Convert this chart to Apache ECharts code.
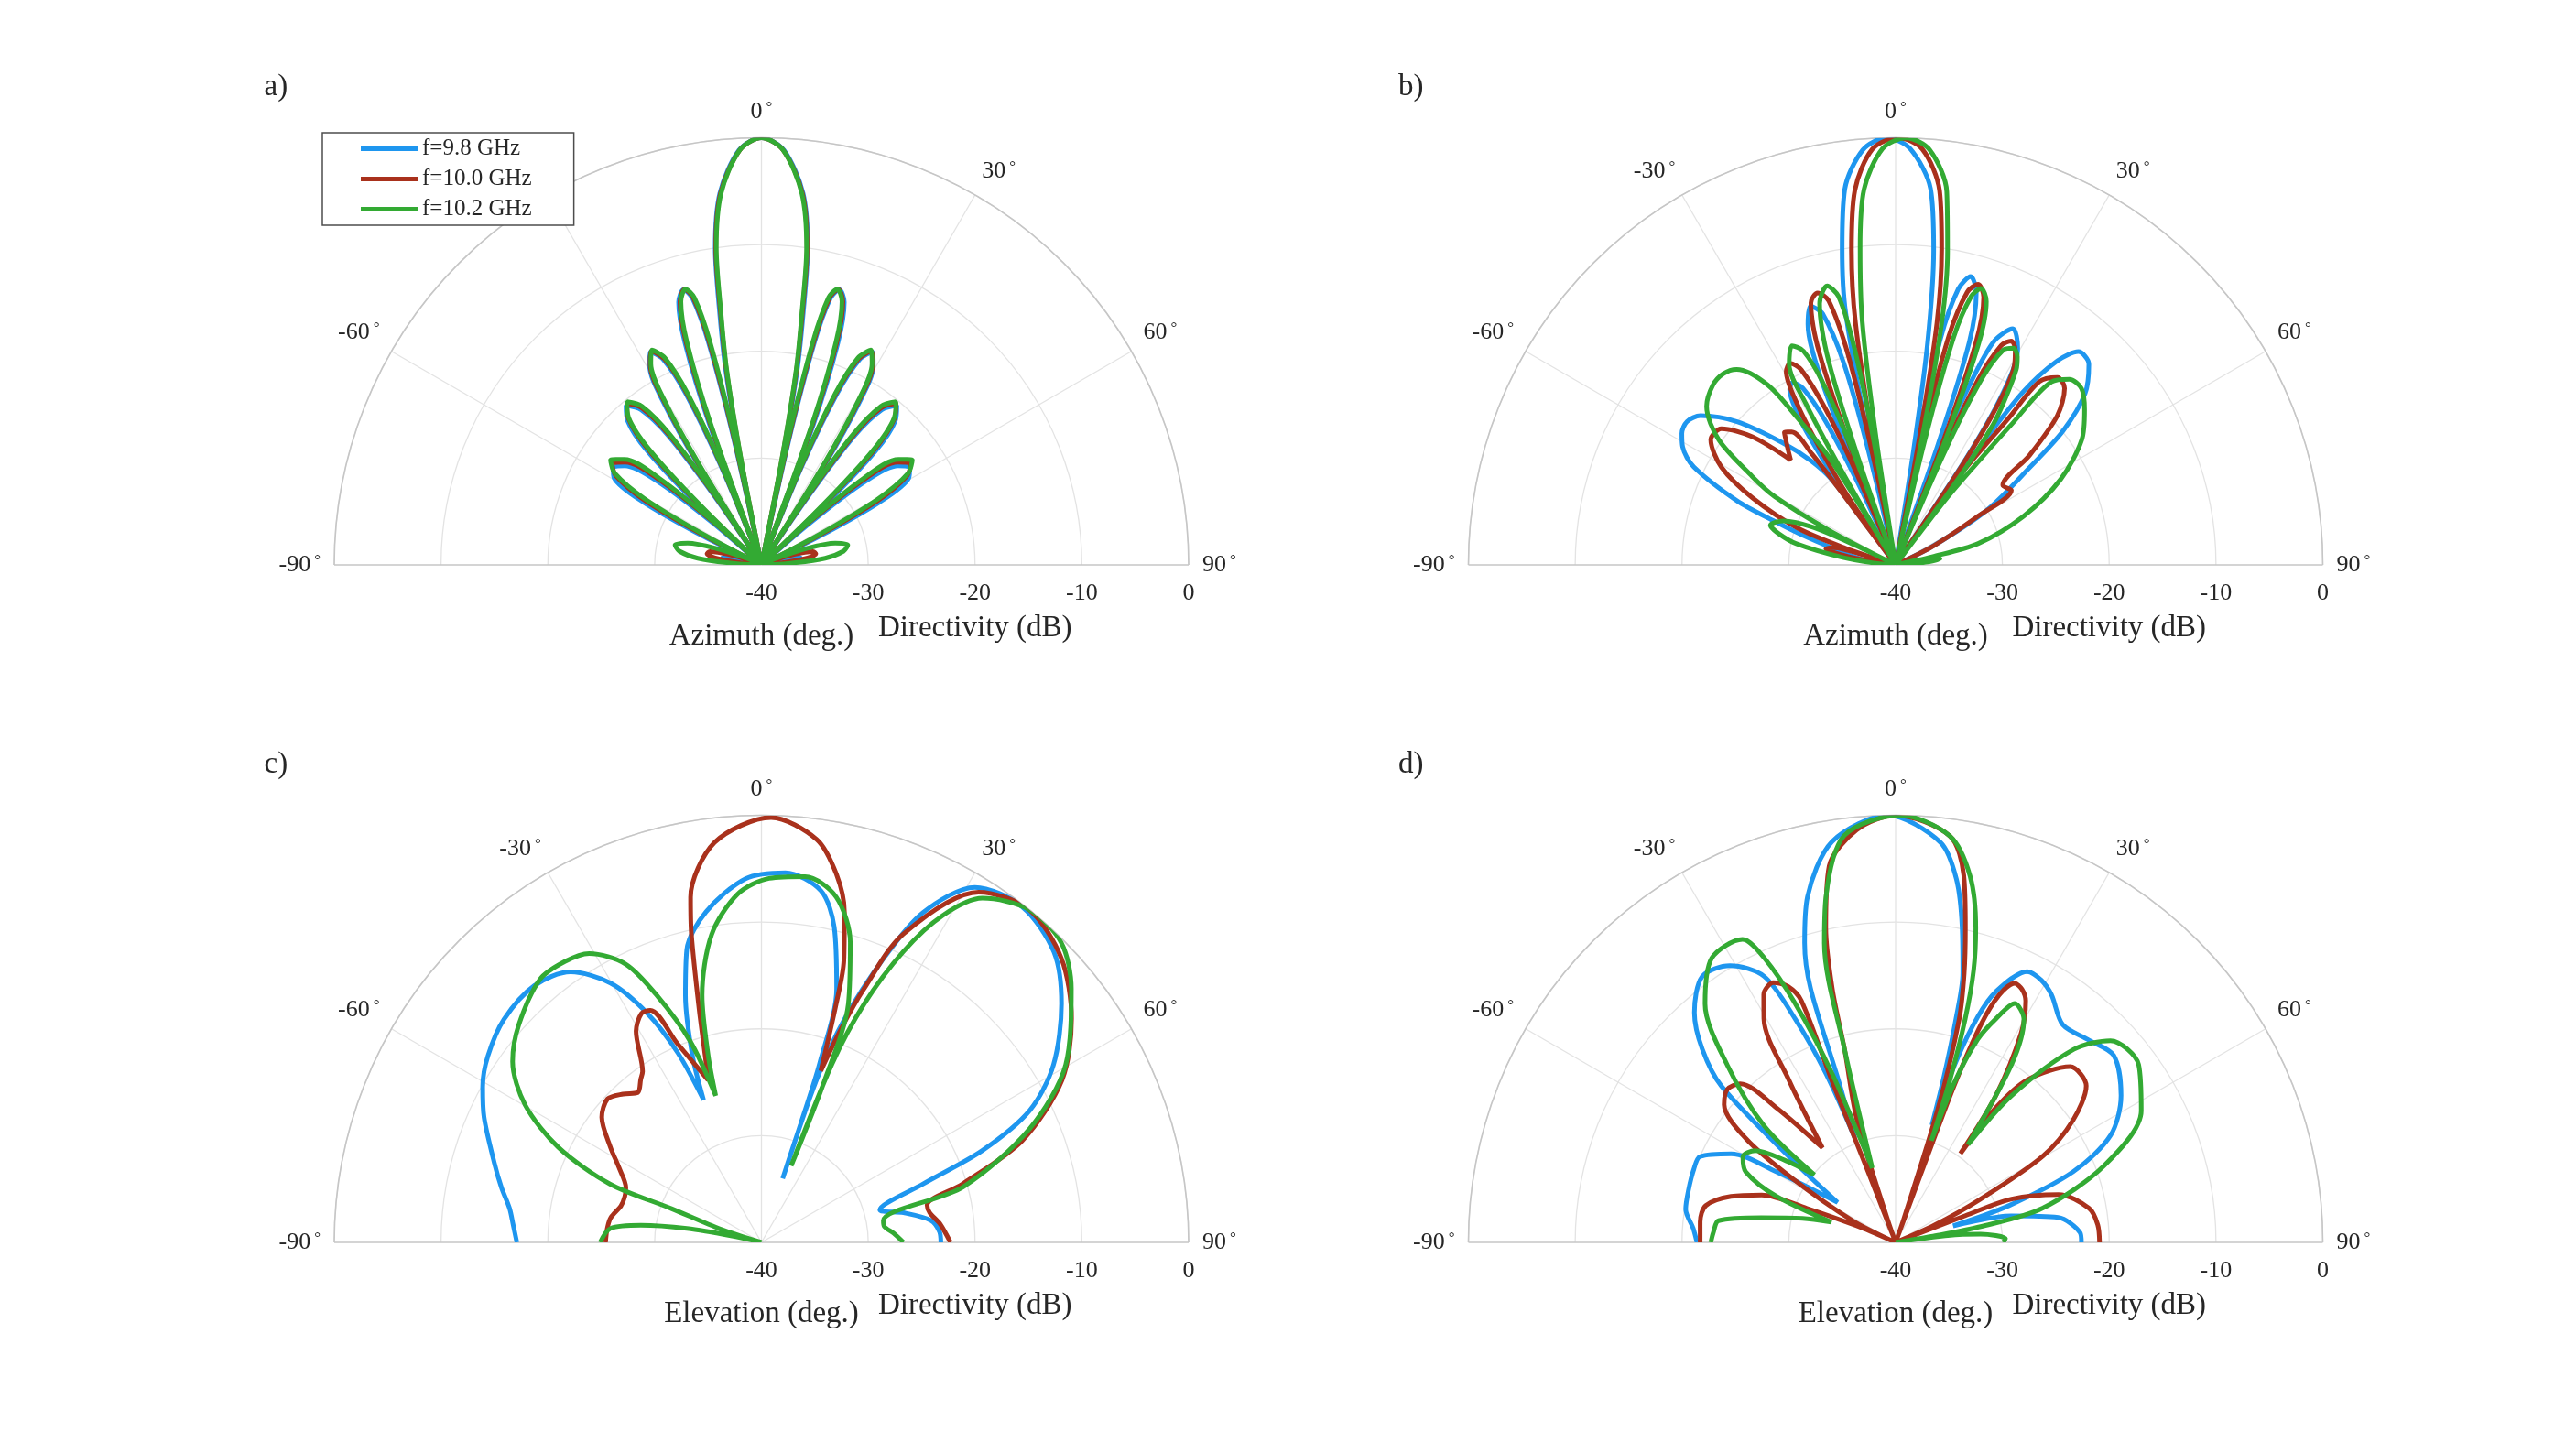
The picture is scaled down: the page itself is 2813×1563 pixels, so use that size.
<!doctype html>
<html>
<head>
<meta charset="utf-8">
<title>Directivity patterns</title>
<script src="https://cdn.jsdelivr.net/npm/echarts@6/dist/echarts.min.js"></script>
<style>
  html, body { margin: 0; padding: 0; background: #fff; }
  #main { width: 2813px; height: 1563px; }
</style>
</head>
<body>
<div id="main"></div>
<script>
// every point is [angle (deg), directivity (dB)]

// a) azimuth cut, broadside beam
var aBlue = [[-90,-40],[-86.5,-39],[-83,-37.3],[-79.5,-36.3],[-76.5,-36.6],[-73,-38.2],[-69,-39.6],[-65,-40],
  [-63.8,-34],[-62,-27.5],[-59.5,-24],[-56.8,-23.4],[-54,-24.2],[-51.2,-27.5],[-49.2,-34],[-47.8,-40],
  [-46.7,-32],[-45.1,-25],[-42.9,-21.6],[-40.3,-20.4],[-37.8,-21.6],[-35.8,-25],[-34.4,-32],[-33.4,-40],
  [-32.3,-29],[-31,-22],[-29.3,-18.6],[-27.5,-17.5],[-25.5,-18.7],[-23.8,-22.5],[-22.3,-30],[-21.3,-40],
  [-20.3,-26],[-19,-18],[-17.5,-14.2],[-15.8,-13.2],[-14.5,-14.2],[-13.4,-18.5],[-12.4,-28],[-11.8,-40],
  [-11.2,-30],[-10.4,-21.5],[-9.4,-16],[-8.3,-10],[-6.4,-5],[-3.1,-1.1],[0,0],
  [3.1,-1.1],[6.4,-5],[8.3,-10],[9.4,-16],[10.4,-21.5],[11.2,-30],
  [11.8,-40],[12.4,-28],[13.4,-18.5],[14.5,-14.2],[15.8,-13.2],[17.5,-14.2],[19,-18],[20.3,-26],
  [21.3,-40],[22.3,-30],[23.8,-22.5],[25.5,-18.7],[27.5,-17.5],[29.3,-18.6],[31,-22],[32.3,-29],
  [33.4,-40],[34.4,-32],[35.8,-25],[37.8,-21.6],[40.3,-20.4],[42.9,-21.6],[45.1,-25],[46.7,-32],
  [47.8,-40],[49.2,-34],[51.2,-27.5],[54,-24.2],[56.8,-23.4],[59.5,-24],[62,-27.5],[63.8,-34],
  [65,-40],[69,-39.6],[73,-38.2],[76.5,-36.6],[79.5,-36.3],[83,-37.3],[86.5,-39],[90,-40]];
var aRed = [[-90,-40],[-86,-38.8],[-82,-36],[-78.5,-34.8],[-75.5,-35],[-72,-36.8],[-68,-39],[-64,-40],
  [-62.8,-34],[-61,-27.5],[-58.5,-24],[-55.8,-23.1],[-53,-24],[-50.2,-27.5],[-48.3,-34],[-47,-40],
  [-46,-32],[-44.5,-25],[-42.3,-21.5],[-39.8,-20.3],[-37.3,-21.5],[-35.4,-25],[-34,-32],[-33,-40],
  [-32,-29],[-30.7,-22],[-29,-18.5],[-27.2,-17.5],[-25.2,-18.7],[-23.5,-22.5],[-22,-30],[-21,-40],
  [-20,-26],[-18.7,-18],[-17.2,-14.2],[-15.6,-13.2],[-14.3,-14.2],[-13.2,-18.5],[-12.2,-28],[-11.6,-40],
  [-11,-30],[-10.2,-21.5],[-9.2,-16],[-8.2,-10],[-6.3,-5],[-3,-1.1],[0,0],
  [3,-1.1],[6.3,-5],[8.2,-10],[9.2,-16],[10.2,-21.5],[11,-30],
  [11.6,-40],[12.2,-28],[13.2,-18.5],[14.3,-14.2],[15.6,-13.2],[17.2,-14.2],[18.7,-18],[20,-26],
  [21,-40],[22,-30],[23.5,-22.5],[25.2,-18.7],[27.2,-17.5],[29,-18.5],[30.7,-22],[32,-29],
  [33,-40],[34,-32],[35.4,-25],[37.3,-21.5],[39.8,-20.3],[42.3,-21.5],[44.5,-25],[46,-32],
  [47,-40],[48.3,-34],[50.2,-27.5],[53,-24],[55.8,-23.1],[58.5,-24],[61,-27.5],[62.8,-34],
  [64,-40],[68,-39],[72,-36.8],[75.5,-35],[78.5,-34.8],[82,-36],[86,-38.8],[90,-40]];
var aGreen = [[-90,-40],[-87,-37.5],[-84,-34],[-80.5,-32.2],[-77,-31.7],[-73.5,-32.8],[-70,-35.5],[-66.5,-38.5],[-63.5,-40],
  [-62.3,-34],[-60.5,-27.5],[-58,-23.8],[-55.2,-22.8],[-52.4,-23.8],[-49.7,-27.5],[-47.9,-34],[-46.7,-40],
  [-45.7,-32],[-44.2,-25],[-42,-21.4],[-39.5,-20.2],[-37,-21.4],[-35.1,-25],[-33.7,-32],[-32.7,-40],
  [-31.8,-29],[-30.5,-22],[-28.8,-18.5],[-27,-17.4],[-25,-18.6],[-23.3,-22.5],[-21.8,-30],[-20.8,-40],
  [-19.8,-26],[-18.5,-18],[-17,-14.2],[-15.4,-13.2],[-14.1,-14.2],[-13,-18.5],[-12,-28],[-11.4,-40],
  [-10.9,-30],[-10.1,-21.5],[-9.1,-16],[-8.1,-10],[-6.2,-5],[-3,-1.1],[0,0],
  [3,-1.1],[6.2,-5],[8.1,-10],[9.1,-16],[10.1,-21.5],[10.9,-30],
  [11.4,-40],[12,-28],[13,-18.5],[14.1,-14.2],[15.4,-13.2],[17,-14.2],[18.5,-18],[19.8,-26],
  [20.8,-40],[21.8,-30],[23.3,-22.5],[25,-18.6],[27,-17.4],[28.8,-18.5],[30.5,-22],[31.8,-29],
  [32.7,-40],[33.7,-32],[35.1,-25],[37,-21.4],[39.5,-20.2],[42,-21.4],[44.2,-25],[45.7,-32],
  [46.7,-40],[47.9,-34],[49.7,-27.5],[52.4,-23.8],[55.2,-22.8],[58,-23.8],[60.5,-27.5],[62.3,-34],
  [63.5,-40],[66.5,-38.5],[70,-35.5],[73.5,-32.8],[77,-31.7],[80.5,-32.2],[84,-34],[87,-37.5],[90,-40]];

// b) azimuth cut, frequency-scanned beam
var bBlue = [[-90,-40],[-84,-38],[-78,-35.5],[-74.7,-33.5],[-72,-30.5],[-70.1,-27.8],[-68,-24],[-64.1,-19],[-61,-17.2],
  [-58.4,-16.5],[-55.5,-16.3],[-52.6,-17],[-47.9,-20],[-42.8,-24.4],[-39,-27.5],[-36.8,-30],[-36.5,-34],[-36.2,-40],
  [-35.2,-31],[-33.8,-25],[-32.3,-22],[-31.1,-20.8],[-29.5,-20.4],[-27.7,-21.3],[-26,-25],[-24.6,-32],[-23.8,-40],
  [-23,-31],[-21.8,-21],[-20,-16],[-18.2,-14.5],[-16.2,-15.5],[-14.4,-20.5],[-13.4,-29],[-12.8,-40],
  [-12.3,-29],[-11.2,-16],[-9.6,-10],[-7.7,-4.5],[-4.5,-1],[-1.2,0],[2,-1],[5.3,-4.6],[6.9,-10.3],[8.2,-19],[8.9,-29],[9.4,-40],
  [10,-29],[11.2,-18.5],[12.8,-13.5],[14.6,-12.1],[16.5,-13.4],[18.3,-18],[19.4,-28],[20,-40],
  [21,-30],[22.3,-22],[23.7,-17.2],[26.4,-15.3],[29.4,-16.7],[32,-21.1],[33.5,-28],[34.2,-40],
  [35,-31],[35.4,-26.7],[36.4,-19.8],[38.4,-15.6],[40.6,-13.7],[43.9,-13.9],[47.9,-16.1],[51.3,-19.9],
  [54,-24.5],[59,-30],[63.4,-36.2],[68,-40],[90,-40]];
var bRed = [[-90,-40],[-84,-39],[-80,-35.5],[-77,-33.3],[-74.5,-34],[-73,-37],[-72.3,-40],[-71.5,-35],[-69.4,-30.2],
  [-64.9,-25.2],[-60.7,-21.3],[-55.9,-19.1],[-52,-19.3],[-48.2,-22],[-45,-26.1],[-42.5,-25],[-40,-23.8],[-38,-24.2],
  [-37,-27],[-36.7,-31],[-36.5,-40],
  [-35,-33],[-33,-27],[-31.5,-22.5],[-29.5,-19.2],[-27.6,-18.7],[-25.8,-19.7],[-24.2,-24],[-23,-31],[-22.2,-40],
  [-21.2,-30],[-19.8,-19],[-17.9,-14.2],[-16,-13.5],[-14.2,-14.5],[-12.7,-20],[-11.7,-30],[-11,-40],
  [-10.4,-28],[-9.4,-17],[-8,-10.3],[-6.2,-4.7],[-3.2,-1],[0.3,0],[3.7,-1],[6.7,-4.7],[8.3,-10.1],[9.7,-17],[10.6,-28],[11.2,-40],
  [11.9,-28],[13.1,-18],[14.7,-13.6],[16.4,-12.6],[18.2,-13.6],[19.9,-18],[21.1,-28],[21.8,-40],
  [22.7,-29],[24,-21],[25.7,-17.2],[27.3,-16.4],[29,-16.9],[30.6,-18.1],[32.5,-22],[33.8,-29],[34.6,-40],
  [35.6,-30],[37.6,-22.7],[38.1,-18.2],[40.8,-16.8],[43.7,-17.1],[47.3,-19.4],[50.7,-23.8],[53.4,-27.5],
  [57.2,-27.1],[59.4,-31],[63.4,-36],[67,-40],[90,-40]];
var bGreen = [[-90,-40],[-86,-38.5],[-82,-35],[-78,-30.5],[-74.9,-28.6],[-72.4,-27.7],[-68.6,-28.7],[-65.5,-31.5],[-64,-36],[-63.5,-40],
  [-62.5,-33],[-60.5,-27],[-58.3,-24.2],[-54.7,-19.7],[-50,-16.9],[-45.5,-16],[-42,-15.9],[-39.1,-16.4],[-35.4,-19.3],
  [-33.7,-23.5],[-31.8,-28],[-31,-34],[-30.6,-40],
  [-29.8,-30],[-29.1,-22.7],[-27.9,-18.7],[-25.3,-17.3],[-23.3,-18.2],[-21.8,-21.5],[-20.7,-28],[-20,-40],
  [-19.3,-30],[-18.2,-20],[-16.2,-14.5],[-13.8,-13.1],[-12,-14.3],[-10.8,-19],[-10,-28],[-9.5,-40],
  [-8.7,-28],[-7.8,-17],[-6.4,-10.2],[-4.8,-4.7],[-1.8,-1],[1.4,0],[4.7,-1],[7.8,-4.7],[9.4,-10.2],[10.8,-17],[11.8,-28],[12.5,-40],
  [13.2,-28],[14.3,-18],[15.7,-13.9],[17.2,-12.9],[19,-13.9],[20.6,-18],[21.8,-28],[22.5,-40],
  [23.4,-29],[24.8,-21],[26.6,-17.5],[28.5,-16.9],[30.3,-17.4],[31.7,-18.5],[33.5,-21.5],[34.8,-24],[36,-30],[36.8,-40],
  [37.5,-32],[38.8,-27],[39.5,-23.1],[40.4,-17.5],[43.1,-16.2],[46.5,-16],[50.6,-17.1],[56.1,-19],[62.6,-22.6],
  [69.2,-27.2],[75.5,-32],[77.5,-36.5],[78.5,-40],[80,-36.5],[82,-35.8],[85,-37.2],[88,-39.5],[90,-40]];

// c) elevation cut
var cBlue = [[-90,-17.1],[-86,-16.7],[-82.3,-16.2],[-78,-15.1],[-73.4,-13.9],[-65.7,-11.5],[-60.8,-10.1],[-55.7,-9],
  [-49.1,-8.1],[-41.5,-7.9],[-35.2,-9],[-30.2,-11.9],[-26.5,-16],[-23.8,-20.6],[-22.1,-25.6],[-20.3,-21.4],
  [-17.1,-15.8],[-14.3,-11.7],[-9.5,-8.6],[-2.5,-5.9],[3.7,-5.3],[9.6,-6.6],[13,-9.7],[16.5,-15.2],[18,-22.3],
  [18.3,-28.4],[18.4,-33.7],[18.7,-24],[20.4,-17.7],[23.3,-11],[26.1,-5.6],[31,-1.2],[37.8,-0.2],[45.2,-1.4],
  [51.5,-4.1],[58.7,-8],[63.8,-12],[67.4,-17.6],[70.1,-23.9],[74.6,-28.5],[78.2,-26.4],[82.6,-24],[86.5,-23.3],[90,-23.2]];
var cRed = [[-90,-25.4],[-85,-25.5],[-80.7,-25.7],[-75.5,-26.4],[-71.4,-26.5],[-67.9,-26.3],[-62.5,-25],[-57.8,-23.3],
  [-51.9,-21],[-47,-20.3],[-43,-21],[-39.5,-21.8],[-36.5,-21],[-34.8,-20.5],[-30.7,-17],[-27.7,-15.8],[-25.6,-15.9],
  [-22.9,-19.8],[-18.2,-24],[-16.8,-21.8],[-15,-17.5],[-12.8,-10.4],[-11.6,-7],[-6.7,-2.3],[1.3,-0.2],[7.8,-1.9],
  [11.5,-4.8],[14.1,-8.1],[16.3,-12.5],[17.4,-16.6],[19.1,-23],[20.5,-18.5],[22,-14.4],[24.7,-8.2],[31.8,-1.4],
  [38.7,0],[46.5,-1.3],[54.2,-4.2],[61.6,-8],[68.7,-13.8],[73.8,-20.4],[77.3,-24.1],[80,-24],[84,-23.2],[90,-22.3]];
var cGreen = [[-90,-24.9],[-84.7,-25.8],[-81.9,-28.6],[-79.4,-32.9],[-77.5,-37.2],[-75.5,-40],[-72,-36],[-69.4,-31],
  [-68.9,-24.8],[-64.9,-19],[-59.8,-14.4],[-54,-11.2],[-48.2,-9.5],[-40.1,-7.8],[-35,-7.9],[-30.8,-8.5],[-26,-11],
  [-23,-14.8],[-19.5,-20],[-17.3,-25.6],[-15.9,-21.8],[-13.5,-16.2],[-9.2,-10.8],[-3.9,-7.3],[1.2,-5.9],[6.8,-5.5],
  [12.2,-6.9],[16.5,-10.7],[20,-16.2],[21.3,-23.7],[21.2,-32.3],[21.6,-22],[23.3,-15.7],[26,-9.7],[29,-5],[32.7,-1.7],
  [38.8,0],[45,-0.3],[50.7,-2.5],[59.7,-7],[67,-12.7],[74.6,-20.4],[79.8,-28.4],[82.6,-28.4],[86,-27.6],[90,-26.7]];

// d) elevation cut
var dBlue = [[-90,-21.4],[-86,-21],[-81,-20.1],[-75.9,-20],[-70,-19.9],[-66.3,-20],[-61.7,-22.5],[-59.4,-27],
  [-55.4,-33.4],[-51.4,-27.6],[-48.1,-18.1],[-45,-14.4],[-41.2,-11.4],[-36,-9.2],[-30.9,-9.8],[-26.3,-12.2],
  [-24.2,-17],[-22.4,-22.9],[-21.3,-29.5],[-19.4,-23.9],[-18.5,-14.9],[-16.9,-10.7],[-14.3,-6.6],[-9,-2],[-1,0],
  [6.4,-2.3],[9.5,-5.5],[11.9,-9.8],[14,-14],[15.1,-18.3],[16.3,-24],[17.2,-28.5],[18.5,-22],[20,-17.5],
  [21.8,-14.7],[25.9,-11.8],[29,-11.9],[32.2,-12.6],[37.5,-14.3],[43.7,-13.8],[49.4,-13.1],[56.9,-14.8],
  [63.5,-17.5],[68.3,-22.1],[72,-28.8],[74,-34.4],[77.1,-28.9],[81.3,-24.6],[87,-22.7],[90,-22.6]];
var dRed = [[-90,-21.7],[-84,-21.6],[-79,-21.9],[-74.4,-24],[-70.5,-26.7],[-69,-31.1],[-67,-36],[-65.5,-40],
  [-63.1,-35.5],[-58.2,-28.6],[-55.2,-22.9],[-51.2,-19.4],[-47.7,-18.7],[-44.4,-19.2],[-41.5,-23.2],[-37.7,-28.8],
  [-33.3,-21.8],[-30.5,-15.7],[-28,-13.7],[-25.2,-13.1],[-22.8,-14],[-21.3,-15.7],[-21.5,-23.7],[-21.3,-32],
  [-20.3,-40],[-19.3,-37.8],[-17.5,-28],[-14.8,-21.3],[-14,-15.5],[-12.5,-9.8],[-10,-4.2],[-5.4,-1.2],[0,0],
  [7.6,-1.6],[10.5,-5],[12.5,-9.8],[14.3,-14],[15.9,-18.3],[17.6,-27],[19.3,-37.8],[20,-40],[20.3,-30],[20.5,-24],
  [21.4,-18.1],[22.7,-14.9],[24.7,-13.3],[26.5,-13.5],[28.3,-14.3],[31,-17.2],[34.3,-23.3],[36.1,-29.7],[36.7,-24.2],
  [39,-20.4],[44.8,-16.8],[50.6,-16.9],[55.4,-19.8],[59.6,-24],[63,-31.1],[66,-36],[68,-40],[69,-33],
  [69.5,-28.4],[73.6,-24.1],[80,-21.6],[85,-21],[90,-20.9]];
var dGreen = [[-90,-22.7],[-87,-22.9],[-83,-23.3],[-79.6,-27.2],[-75.5,-31],[-72.5,-33.7],[-68.8,-28],[-64.8,-24.5],
  [-60.7,-23.6],[-56.8,-24.3],[-53.5,-27],[-50.2,-30.1],[-48.4,-23.5],[-43.5,-17.1],[-38.6,-11.4],[-32.9,-8.3],
  [-26.8,-8.2],[-24.8,-10.6],[-22.8,-15.7],[-20.6,-23.1],[-17.4,-32.7],[-14.8,-21.3],[-13.4,-11.2],[-11.4,-7],
  [-7.2,-1.6],[0.6,0],[7.6,-1.6],[11.5,-5],[14.3,-9.6],[16,-13.5],[17.3,-18.1],[18.5,-24],[19.4,-29.9],[20.2,-24],
  [22,-19.5],[24.2,-17],[26.5,-15],[29.9,-15.9],[33.1,-20.1],[36.5,-28.6],[38.3,-22.5],[42.7,-15.4],[46.8,-12.4],
  [53.8,-11.8],[61.8,-13.9],[69.8,-19.2],[76.9,-25.9],[79.5,-31.9],[80.5,-36.6],[81.5,-40],[83,-34],[84.5,-32],
  [88,-29.7],[90,-29.9]];

var seriesNames = ['f=9.8 GHz', 'f=10.0 GHz', 'f=10.2 GHz'];
var panelData = [[aBlue, aRed, aGreen], [bBlue, bRed, bGreen], [cBlue, cRed, cGreen], [dBlue, dRed, dGreen]];
var panelTags = ['a)', 'b)', 'c)', 'd)'];
var angleTitles = ['Azimuth (deg.)', 'Azimuth (deg.)', 'Elevation (deg.)', 'Elevation (deg.)'];
var angleTicks = { min: -90, max: 90, step: 30 };
var dbTicks = { min: -40, max: 0, step: 10 };

var colors = ['#1e96ef', '#a9311c', '#33aa33'];
var serif = '"Liberation Serif", "DejaVu Serif", serif';
var ink = '#262626';

// layout of the four half-discs (pixels)
var cx = [831.5, 2070, 831.5, 2070];
var cy = [617, 617, 1357, 1357];
var R = 466.5;

var chart = echarts.init(document.getElementById('main'));

var polar = [], angleAxis = [], radiusAxis = [], grid = [], xAxis = [], yAxis = [], series = [], graphic = [];

for (var i = 0; i < 4; i++) {
  polar.push({ center: [cx[i], cy[i]], radius: R });
  angleAxis.push({
    polarIndex: i, type: 'value',
    min: angleTicks.min, max: angleTicks.max, interval: angleTicks.step,
    startAngle: 180, endAngle: 0, clockwise: true,
    axisLine: { lineStyle: { color: '#c6c6c6', width: 1.6 } },
    axisTick: { show: false },
    splitLine: { show: true, lineStyle: { color: ['#c6c6c6', '#e3e3e3', '#e3e3e3', '#e3e3e3', '#e3e3e3', '#e3e3e3', '#c6c6c6'], width: 1.3 } },
    axisLabel: {
      margin: 15,
      formatter: function (v) { return '{n|' + v + '}{d|°}'; },
      rich: {
        n: { fontFamily: serif, fontSize: 26, color: ink },
        d: { fontFamily: serif, fontSize: 17, color: ink, verticalAlign: 'top', padding: [0, 0, 0, 4] }
      }
    }
  });
  radiusAxis.push({
    polarIndex: i, type: 'value',
    min: dbTicks.min, max: dbTicks.max, interval: dbTicks.step,
    axisLine: { show: false }, axisTick: { show: false }, axisLabel: { show: false },
    splitLine: { show: true, lineStyle: { color: '#e3e3e3', width: 1.3 } }
  });

  // dB scale printed along the right-hand radius
  grid.push({ left: cx[i], top: cy[i] - 10, width: R, height: 10 });
  xAxis.push({
    gridIndex: i, type: 'value',
    min: dbTicks.min, max: dbTicks.max, interval: dbTicks.step,
    axisLine: { show: false }, axisTick: { show: false }, splitLine: { show: false },
    axisLabel: { margin: 18, fontFamily: serif, fontSize: 26, color: ink },
    name: 'Directivity (dB)', nameLocation: 'middle', nameGap: 53,
    nameTextStyle: { fontFamily: serif, fontSize: 33, color: ink }
  });
  yAxis.push({ gridIndex: i, type: 'value', show: false });

  for (var k = 0; k < 3; k++) {
    series.push({
      type: 'line', name: seriesNames[k],
      coordinateSystem: 'polar', polarIndex: i,
      data: panelData[i][k].map(function (p) { return [p[1], p[0]]; }),
      showSymbol: false, smooth: 0.3,
      lineStyle: { width: 5, color: colors[k] },
      itemStyle: { color: colors[k] },
      z: 3 + k
    });
  }

  graphic.push({
    type: 'text', x: cx[i], y: cy[i] + 62,
    style: { text: angleTitles[i], font: '33px ' + serif, fill: ink, align: 'center', verticalAlign: 'top' }
  });
  graphic.push({
    type: 'text', x: cx[i] - 543, y: cy[i] - 538,
    style: { text: panelTags[i], font: '33px ' + serif, fill: ink, align: 'left', verticalAlign: 'top' }
  });
}

chart.setOption({
  backgroundColor: '#fff',
  animation: false,
  color: colors,
  polar: polar,
  angleAxis: angleAxis,
  radiusAxis: radiusAxis,
  grid: grid,
  xAxis: xAxis,
  yAxis: yAxis,
  legend: {
    data: seriesNames,
    orient: 'vertical',
    left: 352, top: 145,
    icon: 'rect', itemWidth: 62, itemHeight: 5, itemGap: 8,
    padding: [5, 46, 5, 42],
    backgroundColor: '#fff', borderColor: '#4d4d4d', borderWidth: 1.5, borderRadius: 0,
    selectedMode: false,
    textStyle: { fontFamily: serif, fontSize: 25, color: ink },
    z: 20
  },
  graphic: graphic,
  series: series
});
</script>
</body>
</html>
